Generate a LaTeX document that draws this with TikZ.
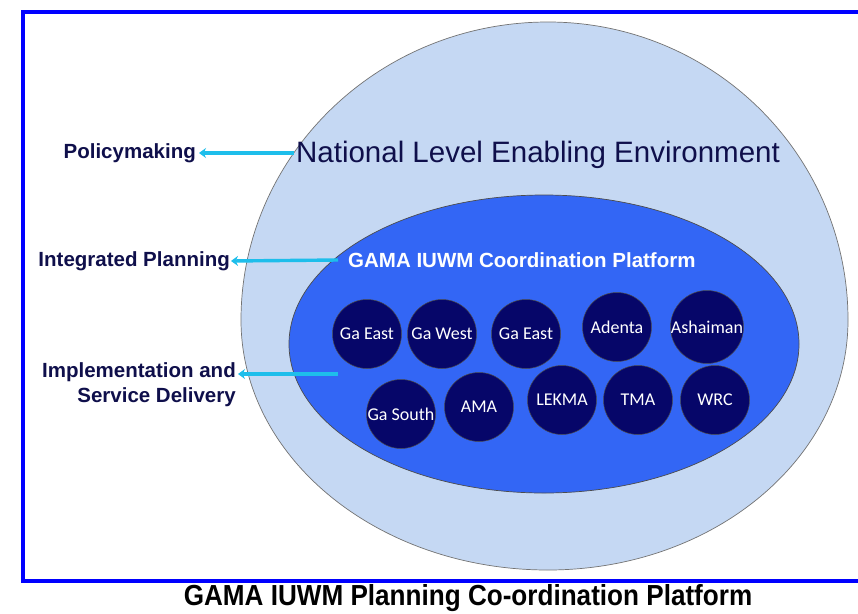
\documentclass[tikz,border=0pt]{standalone}
\usepackage{fontspec}
\setmainfont{Liberation Sans}
\newfontfamily\calfont{Carlito}
\usetikzlibrary{arrows.meta}
\definecolor{outerfill}{RGB}{197,216,243}
\definecolor{innerfill}{RGB}{51,102,245}
\definecolor{unitfill}{RGB}{6,6,105}
\definecolor{navytext}{RGB}{15,15,75}
\definecolor{arrowcyan}{RGB}{30,190,235}
\definecolor{framblue}{RGB}{0,0,255}
\tikzset{
  unit/.style={circle, fill=unitfill, draw=black!70, line width=0.5pt, minimum size=69pt, inner sep=0pt, text=white, font=\calfont\fontsize{18}{20}\selectfont},
  sidelabel/.style={text=navytext, font=\bfseries\fontsize{20.5}{24}\selectfont, inner sep=0pt},
  levelarrow/.style={draw=arrowcyan, line width=3.4pt, -{Stealth[length=7pt,width=10pt]}},
}
\begin{document}
\begin{tikzpicture}[x=1pt,y=-1pt]
\useasboundingbox (0,0) rectangle (858,613);
\fill[white] (0,0) rectangle (858,613);
% frame
\draw[framblue, line width=4.5pt] (23,12) rectangle (880,581);
% outer egg
\draw[fill=outerfill, draw=black!55, line width=0.7pt]
  (548,22) .. controls (713.6,22) and (848,155.5) .. (848,320)
  .. controls (848,458) and (713.6,570) .. (548,570)
  .. controls (378.5,570) and (241,458) .. (241,320)
  .. controls (241,155.5) and (378.5,22) .. (548,22) -- cycle;
% inner ellipse
\draw[fill=innerfill, draw=black!70, line width=0.7pt] (544,344) ellipse [x radius=255, y radius=149];
% titles
\node[text=navytext, font=\fontsize{29.5}{32}\selectfont, inner sep=0pt] (natl) at (538,155) {National Level Enabling Environment};
\node[text=white, font=\bfseries\fontsize{20.5}{24}\selectfont, inner sep=0pt, anchor=west] (gama) at (348,260) {GAMA IUWM Coordination Platform};
% units
\node[unit] (u1) at (367,334) {Ga East};
\node[unit] (u2) at (442,334) {Ga West};
\node[unit] (u3) at (526,334) {Ga East};
\node[unit] (u4) at (617,327) {Adenta};
\node[unit] (u5) at (707,327) {Ashaiman};
\node[unit] (u6) at (401,414) {Ga South};
\node[unit] (u7) at (479,407) {AMA};
\node[unit] (u8) at (562,400) {LEKMA};
\node[unit] (u9) at (638,400) {TMA};
\node[unit] (u10) at (715,400) {WRC};
% side labels
\node[sidelabel, anchor=east] (pol) at (196,153) {Policymaking};
\node[sidelabel, anchor=east] (int) at (230,261) {Integrated Planning};
\node[sidelabel, anchor=north east, align=right, font=\bfseries\fontsize{20.5}{25}\selectfont] (imp) at (236,362) {Implementation and\\Service Delivery};
\coordinate (impstart) at (338,374);
\coordinate (impend) at (238,374);
% arrows
\draw[levelarrow] ([xshift=-2pt]natl.west |- pol.east) -- ([xshift=3pt]pol.east);
\draw[levelarrow] ([xshift=-10pt]gama.west) -- ([xshift=1pt]int.east);
\draw[levelarrow] (impstart) -- (impend);
% caption
\node[text=black, font=\bfseries\fontsize{29}{32}\selectfont, inner sep=0pt] (cap) at (468,598) {\scalebox{0.9}[1]{GAMA IUWM Planning Co-ordination Platform}};
\end{tikzpicture}
\end{document}
